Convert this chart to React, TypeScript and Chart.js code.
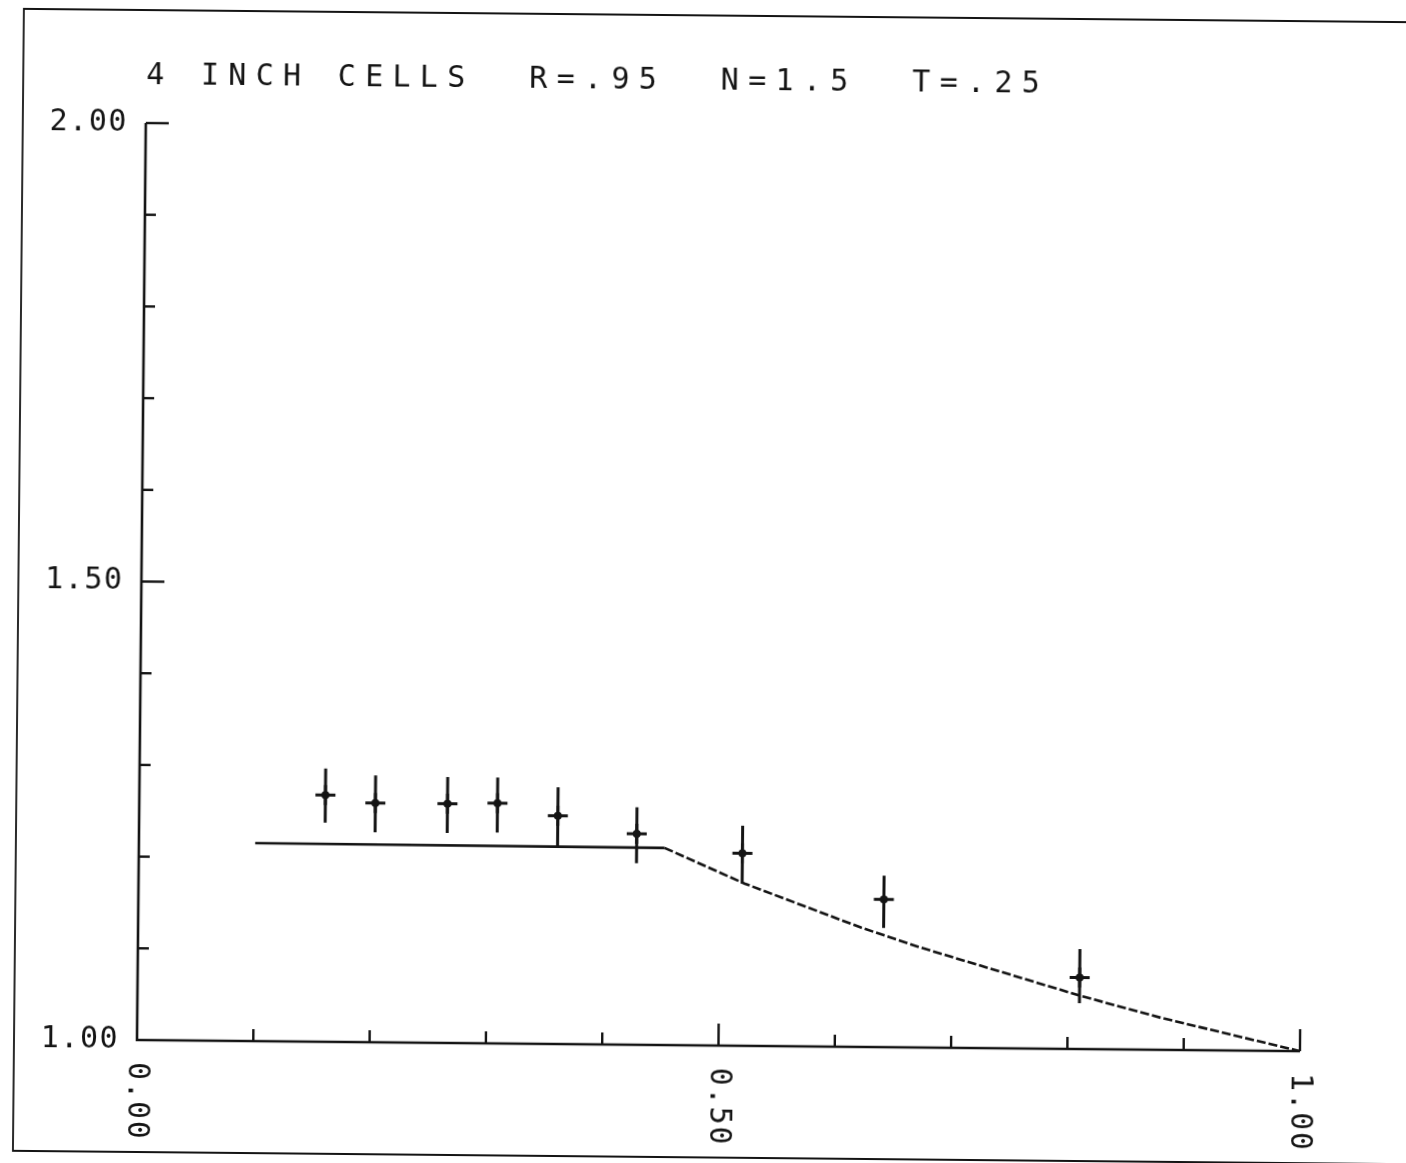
import React, { useEffect, useRef } from 'react';
import { Chart, registerables } from 'chart.js';

Chart.register(...registerables);

// ---------- data ----------
const TITLE = '4 INCH CELLS  R=.95  N=1.5  T=.25';

// measured points (x, y) and their error-bar limits
const pointX = [0.160, 0.203, 0.265, 0.308, 0.360, 0.428, 0.519, 0.641, 0.810];
const pointY = [1.269, 1.261, 1.261, 1.262, 1.249, 1.230, 1.210, 1.161, 1.078];
const errLow = [1.239, 1.229, 1.229, 1.230, 1.214, 1.198, 1.177, 1.130, 1.050];
const errHigh = [1.298, 1.291, 1.290, 1.290, 1.280, 1.259, 1.240, 1.187, 1.109];

// model curve
const modelX = [0.10, 0.452, 0.521, 0.622, 0.673, 0.811, 0.880, 1.0];
const modelY = [1.216, 1.215, 1.177, 1.130, 1.109, 1.058, 1.035, 1.0];

// axes
const X_MIN = 0;
const X_MAX = 1;
const Y_MIN = 1;
const Y_MAX = 2;
const TICK_STEP = 0.1;
const xMajorValues = [0, 0.5, 1.0];
const xMajorLabels = ['0.00', '0.50', '1.00'];
const yMajorValues = [1.0, 1.5, 2.0];
const yMajorLabels = ['1.00', '1.50', '2.00'];

// ---------- styling ----------
const INK = '#141414';
const FONT = '"DejaVu Sans Mono", "Liberation Mono", monospace';
const W = 1406;
const H = 1163;

const plotterPlugin = {
  id: 'plotter',
  beforeDraw(chart: any) {
    const ctx = chart.ctx;
    ctx.save();
    ctx.fillStyle = '#ffffff';
    ctx.fillRect(-50, -50, chart.width + 100, chart.height + 100);
    // outer frame
    ctx.strokeStyle = INK;
    ctx.lineWidth = 1.8;
    ctx.beginPath();
    ctx.moveTo(chart.width + 30, 10);
    ctx.lineTo(14, 10);
    ctx.lineTo(14, 1152);
    ctx.lineTo(chart.width + 30, 1152);
    ctx.stroke();
    ctx.restore();
  },
  beforeDatasetsDraw(chart: any) {
    const ctx = chart.ctx;
    const xs = chart.scales.x;
    const ys = chart.scales.y;
    ctx.save();
    ctx.strokeStyle = INK;
    ctx.lineWidth = 3;
    ctx.lineCap = 'butt';
    for (let i = 0; i < pointX.length; i++) {
      const px = xs.getPixelForValue(pointX[i]);
      ctx.beginPath();
      ctx.moveTo(px, ys.getPixelForValue(errLow[i]));
      ctx.lineTo(px, ys.getPixelForValue(errHigh[i]));
      ctx.stroke();
    }
    ctx.restore();
  },
  afterDraw(chart: any) {
    const ctx = chart.ctx;
    const xs = chart.scales.x;
    const ys = chart.scales.y;
    const { left, right, top, bottom } = chart.chartArea;
    ctx.save();
    ctx.strokeStyle = INK;
    ctx.fillStyle = INK;

    // axis lines
    ctx.lineWidth = 2.6;
    ctx.beginPath();
    ctx.moveTo(left, top);
    ctx.lineTo(left, bottom);
    ctx.lineTo(right, bottom);
    ctx.stroke();

    // tick marks (pointing into the plot)
    ctx.lineWidth = 2.4;
    xs.ticks.forEach((t: any) => {
      const k = Math.round((t.value - X_MIN) / TICK_STEP);
      if (k === 0) return;
      const len = k % 5 === 0 ? 22 : 12;
      const px = xs.getPixelForValue(t.value);
      ctx.beginPath();
      ctx.moveTo(px, bottom);
      ctx.lineTo(px, bottom - len);
      ctx.stroke();
    });
    ys.ticks.forEach((t: any) => {
      const k = Math.round((t.value - Y_MIN) / TICK_STEP);
      if (k === 0) return;
      const len = k % 5 === 0 ? 23 : 11;
      const py = ys.getPixelForValue(t.value);
      ctx.beginPath();
      ctx.moveTo(left, py);
      ctx.lineTo(left + len, py);
      ctx.stroke();
    });

    // y labels
    ctx.font = `30px ${FONT}`;
    (ctx as any).letterSpacing = '1.5px';
    ctx.textAlign = 'right';
    ctx.textBaseline = 'middle';
    yMajorValues.forEach((v, i) => {
      ctx.fillText(yMajorLabels[i], left - 18, ys.getPixelForValue(v));
    });

    // x labels, rotated to read downward
    ctx.textAlign = 'left';
    xMajorValues.forEach((v, i) => {
      const px = xs.getPixelForValue(v);
      ctx.save();
      ctx.translate(px, bottom + 22);
      ctx.rotate(Math.PI / 2);
      ctx.fillText(xMajorLabels[i], 0, 0);
      ctx.restore();
    });

    // title
    (ctx as any).letterSpacing = '9.3px';
    ctx.textBaseline = 'alphabetic';
    ctx.textAlign = 'left';
    ctx.fillText(TITLE, left, 84);
    (ctx as any).letterSpacing = '0px';
    ctx.restore();
  },
};

export default function App() {
  const canvasRef = useRef<HTMLCanvasElement | null>(null);

  useEffect(() => {
    const canvas = canvasRef.current;
    if (!canvas) return;
    const chart = new Chart(canvas, {
      type: 'scatter',
      data: {
        datasets: [
          {
            label: 'dots',
            data: pointX.map((x, i) => ({ x, y: pointY[i] })),
            pointStyle: 'circle',
            pointRadius: 4,
            backgroundColor: INK,
            borderColor: INK,
            borderWidth: 0,
            showLine: false,
          },
          {
            label: 'measured',
            data: pointX.map((x, i) => ({ x, y: pointY[i] })),
            pointStyle: 'cross',
            pointRadius: 10,
            borderColor: INK,
            borderWidth: 3,
            showLine: false,
          },
          {
            label: 'model',
            data: modelX.map((x, i) => ({ x, y: modelY[i] })),
            showLine: true,
            pointRadius: 0,
            borderColor: INK,
            borderWidth: 2.6,
            tension: 0,
            segment: {
              borderDash: (c: any) => (c.p0.parsed.x >= 0.45 ? [9, 3] : undefined),
            },
          } as any,
        ],
      },
      options: {
        responsive: false,
        animation: false,
        events: [],
        layout: {
          autoPadding: false,
          padding: { left: 137, top: 123, right: W - 1300, bottom: H - 1040 },
        },
        plugins: {
          legend: { display: false },
          tooltip: { enabled: false },
          title: { display: false },
        },
        scales: {
          x: {
            type: 'linear',
            min: X_MIN,
            max: X_MAX,
            ticks: { display: false, stepSize: TICK_STEP },
            grid: { display: false },
            border: { display: false },
            afterFit: (s: any) => {
              s.height = 0;
            },
          },
          y: {
            type: 'linear',
            min: Y_MIN,
            max: Y_MAX,
            ticks: { display: false, stepSize: TICK_STEP },
            grid: { display: false },
            border: { display: false },
            afterFit: (s: any) => {
              s.width = 0;
            },
          },
        },
      } as any,
      plugins: [plotterPlugin],
    });
    return () => chart.destroy();
  }, []);

  return (
    <div
      style={{
        position: 'absolute',
        left: 0,
        top: 0,
        width: W,
        height: H,
        overflow: 'hidden',
        background: '#ffffff',
      }}
    >
      <canvas
        ref={canvasRef}
        width={W}
        height={H}
        style={{
          display: 'block',
          width: W,
          height: H,
          transform: 'rotate(0.55deg)',
          transformOrigin: '137px 1040px',
        }}
      />
    </div>
  );
}
